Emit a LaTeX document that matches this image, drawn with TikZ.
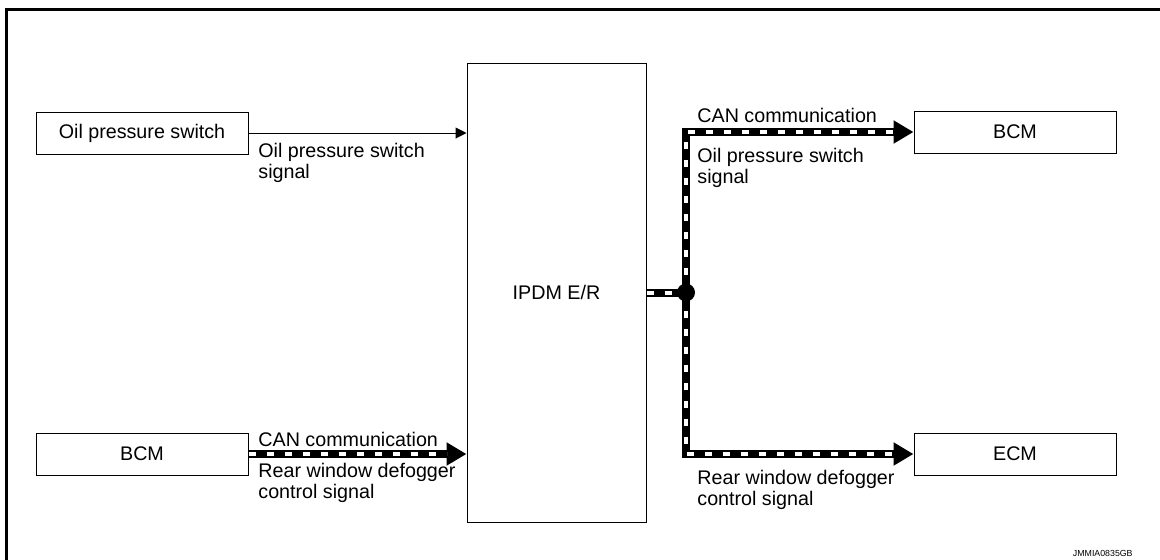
\documentclass[tikz,border=0pt]{standalone}
\usepackage{fontspec}
\setmainfont{Liberation Sans}
\usetikzlibrary{arrows.meta}

\tikzset{
  unitbox/.style={draw, line width=0.5pt, inner sep=0pt, minimum height=21pt},
  sigline/.style={line width=0.5pt, -{Triangle[length=5.5pt,width=5.5pt]}},
  canline/.style={line width=4pt, -{Triangle[length=10pt,width=11pt]},
    postaction={draw=white, line width=2pt, -, dash pattern=on 3.5pt off 5.5pt, shorten >=10pt}},
  canstub/.style={line width=4pt,
    postaction={draw=white, line width=2pt, dash pattern=on 3.5pt off 5.5pt}},
  jdot/.style={circle, fill, inner sep=0pt, minimum size=9pt},
  lbl/.style={anchor=north west, inner sep=0pt, align=left},
}

\begin{document}
\begin{tikzpicture}[x=0.5pt, y=-0.5pt, font=\fontsize{9.85}{10.5}\selectfont]
\useasboundingbox (0,0) rectangle (1160,559);
% frame
\draw[line width=1.4pt] (6.5,570) -- (6.5,9.5) -- (1170,9.5);

% units
\node[unitbox, minimum width=106pt] (oilsw) at (142,133) {Oil pressure switch};
\node[unitbox, minimum width=106pt] (bcmL) at (142,454) {BCM};
\node[unitbox, minimum width=89.5pt, minimum height=229.5pt] (ipdm) at (556.5,292.5) {IPDM E/R};
\node[unitbox, minimum width=101pt] (bcmR) at (1015,132) {BCM};
\node[unitbox, minimum width=101pt] (ecm) at (1015,454) {ECM};
\coordinate (jn) at (686,292.5);

% signals
\draw[sigline] (oilsw.east) -- (oilsw.east -| ipdm.west);
\draw[canline] (bcmL.east) -- (bcmL.east -| ipdm.west);
\draw[canstub] (ipdm.east) -- (jn);
\draw[canline] (jn) |- (bcmR.west);
\draw[canline] (jn) |- (ecm.west);
\node[jdot] (jndot) at (jn) {};

% labels
\node[lbl] (oilsig) at (258,143) {Oil pressure switch\\signal};
\node[lbl] (canR) at (697,108) {CAN communication};
\node[lbl] (oilsigR) at (697,148) {Oil pressure switch\\signal};
\node[lbl] (canL) at (258,432) {CAN communication};
\node[lbl] (defogL) at (258,463) {Rear window defogger\\control signal};
\node[lbl] (defogR) at (697,470) {Rear window defogger\\control signal};
\node[font=\fontsize{4.4}{5}\selectfont, anchor=base east, inner sep=0pt] (figid) at (1133,556) {JMMIA0835GB};
\end{tikzpicture}
\end{document}
